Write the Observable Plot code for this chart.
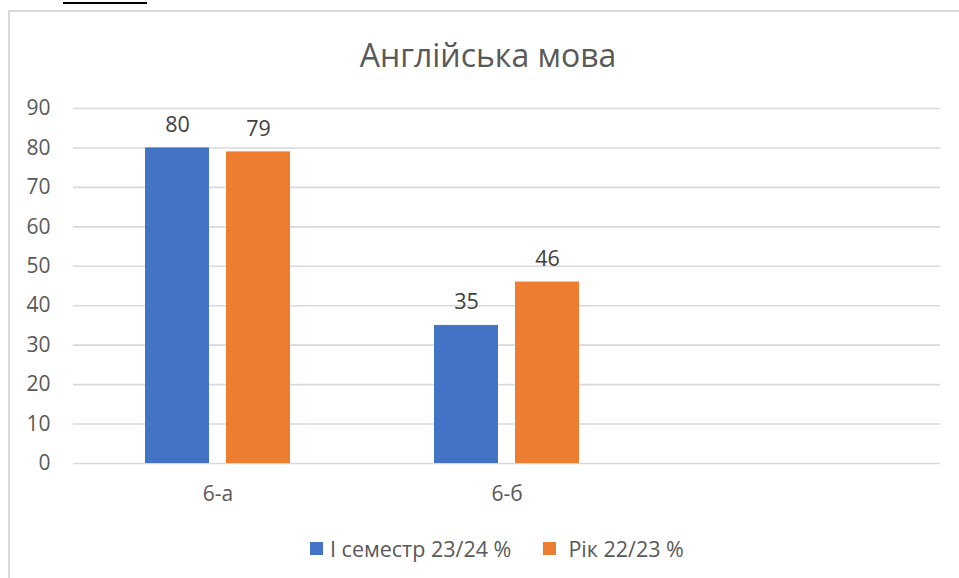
<!DOCTYPE html>
<html>
<head>
<meta charset="utf-8">
<script src="https://cdn.jsdelivr.net/npm/d3@7"></script>
<script src="https://cdn.jsdelivr.net/npm/@observablehq/plot@0.6"></script>
<style>
  html, body { margin: 0; padding: 0; background: #fff; width: 959px; height: 578px; overflow: hidden; }
  body { position: relative; font-family: "Open Sans", "Noto Sans", sans-serif; }
  #doc { position: absolute; left: 63px; top: -25px; height: 27px; width: 84px; border-bottom: 2px solid #000;
         font: bold 28px "Liberation Serif", serif; line-height: 28px; color: #000; white-space: nowrap; overflow: hidden; }
  #frame { position: absolute; left: 8px; top: 10px; width: 960px; height: 580px;
           border-left: 2px solid #d9d9d9; border-top: 2px solid #d9d9d9; }
  #title { position: absolute; left: 0; width: 976px; top: 33px; text-align: center;
           font-size: 32px; color: #595959; }
  #chart { position: absolute; left: 0; top: 0; }
  #legend { position: absolute; left: 310px; top: 534px; display: flex; align-items: center;
            font-size: 21.5px; color: #595959; white-space: nowrap; }
  .item { display: flex; align-items: center; }
  .sw { width: 13px; height: 13px; display: inline-block; margin-right: 7px; }
</style>
</head>
<body>
<div id="doc">мови.</div>
<div id="frame"></div>
<div id="chart"></div>
<div id="title">Англійська мова</div>
<div id="legend"></div>
<script>
const categories = ["6-а", "6-б", "_"];
const seriesNames = ["І семестр 23/24 %", "Рік 22/23 %"];
const semesterValues = [80, 35];
const yearValues = [79, 46];
const colors = ["#4472C4", "#ED7D31"];
const yTicks = [0, 10, 20, 30, 40, 50, 60, 70, 80, 90];

const rows = [];
semesterValues.forEach((v, i) => rows.push({cat: categories[i], series: seriesNames[0], value: v}));
yearValues.forEach((v, i) => rows.push({cat: categories[i], series: seriesNames[1], value: v}));

const gridRows = [];
categories.forEach(c => yTicks.forEach(t => gridRows.push({cat: c, tick: t})));

const plot = Plot.plot({
  width: 959,
  height: 520,
  marginLeft: 73,
  marginRight: 19,
  marginTop: 108,
  marginBottom: 57,
  style: {fontFamily: "'Open Sans', 'Noto Sans', sans-serif", fontSize: "21px", color: "#595959", background: "transparent"},
  fx: {domain: categories, padding: 0, label: null, tickSize: 0, tickPadding: 23,
       tickFormat: d => d === "_" ? "" : d},
  x: {domain: seriesNames, paddingInner: 0.207, paddingOuter: 0.866, axis: null},
  y: {domain: [0, 90], ticks: yTicks, label: null, tickSize: 0, tickPadding: 23},
  color: {domain: seriesNames, range: colors},
  marks: [
    Plot.ruleY(gridRows, {fx: "cat", y: "tick", stroke: "#d9d9d9", strokeWidth: 1.6}),
    Plot.barY(rows, {fx: "cat", x: "series", y: "value", fill: "series"}),
    Plot.text(rows, {fx: "cat", x: "series", y: "value", text: d => String(d.value),
      lineAnchor: "bottom", dy: -16, fill: "#404040", fontSize: 21.5})
  ]
});
document.getElementById("chart").appendChild(plot);

const legend = document.getElementById("legend");
seriesNames.forEach((name, i) => {
  const item = document.createElement("div");
  item.className = "item";
  if (i > 0) item.style.marginLeft = "32px";
  const sw = document.createElement("span");
  sw.className = "sw";
  sw.style.background = colors[i];
  if (i > 0) sw.style.marginRight = "12px";
  const t = document.createElement("span");
  t.textContent = name;
  item.appendChild(sw);
  item.appendChild(t);
  legend.appendChild(item);
});
</script>
</body>
</html>
